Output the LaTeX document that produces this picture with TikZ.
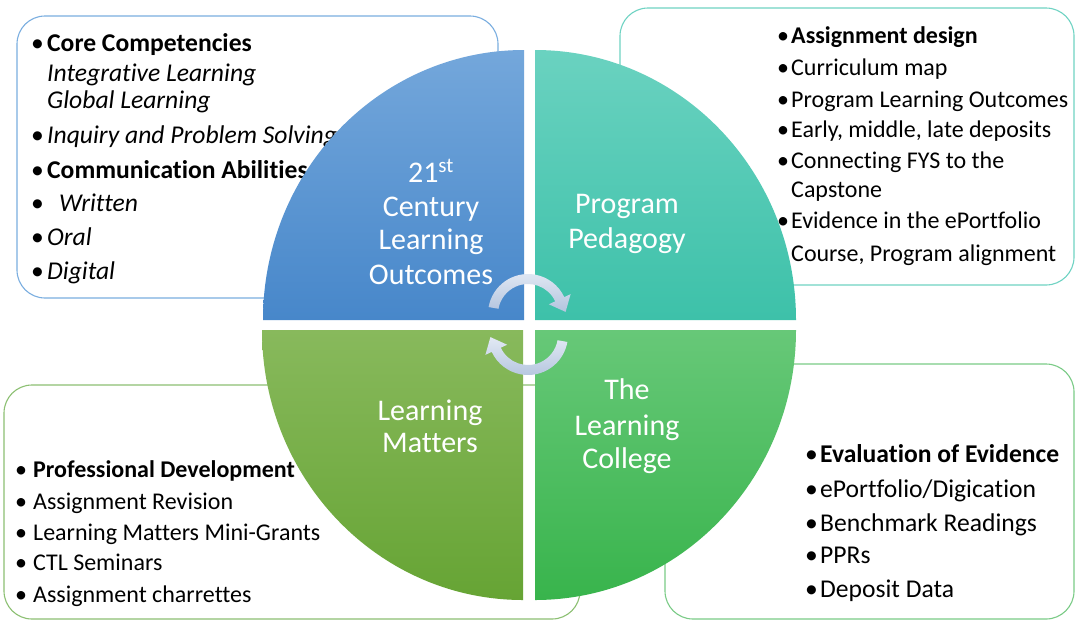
\documentclass[tikz,border=0pt]{standalone}
\usepackage{fontspec}
\setmainfont{Carlito}[Ligatures=NoCommon]
\definecolor{tlTop}{HTML}{74A7DB}
\definecolor{tlBot}{HTML}{4787CA}
\definecolor{trTop}{HTML}{6AD2C0}
\definecolor{trBot}{HTML}{3DC1A9}
\definecolor{blTop}{HTML}{88B95C}
\definecolor{blBot}{HTML}{66A434}
\definecolor{brTop}{HTML}{67C878}
\definecolor{brBot}{HTML}{38B44C}
\definecolor{tlB}{HTML}{7AAEE0}
\definecolor{trB}{HTML}{6FD3C3}
\definecolor{blB}{HTML}{8CC072}
\definecolor{brB}{HTML}{7ACB86}
\definecolor{arrTop}{HTML}{E2E9F4}
\definecolor{arrBot}{HTML}{B3C4DE}
\newcommand\bul[1]{\makebox[#1pt][l]{\textbullet}}
\begin{document}
\begin{tikzpicture}[x=1pt,y=1pt,
  box/.style={draw, line width=1.1pt, fill=white, rounded corners=28pt},
  itm/.style={anchor=base west, inner sep=0pt, font=\fontsize{24}{28}\selectfont},
  itmL/.style={itm, font=\fontsize{25.6}{30}\selectfont},
  lab/.style={anchor=base, inner sep=0pt, text=white, font=\fontsize{30}{34}\selectfont},
  arr/.style={top color=arrTop, bottom color=arrBot, draw=none}]
\useasboundingbox (0,0) rectangle (1076,-622);
\fill[white] (0,0) rectangle (1076,-622);
% boxes
\draw[box, draw=tlB] (17,-16) rectangle (498,-298);
\draw[box, draw=trB] (620,-8) rectangle (1074,-285);
\draw[box, draw=blB] (4,-385) rectangle (580,-619);
\draw[box, draw=brB] (665,-364) rectangle (1074,-619);
% top-left texts
\node[itmL] (tl1) at (31,-51) {\bul{16}\textbf{Core Competencies}};
\node[itmL] (tl2) at (47,-81) {\itshape Integrative Learning};
\node[itmL] (tl3) at (47,-108) {\itshape Global Learning};
\node[itmL] (tl4) at (31,-143) {\bul{16}\textit{Inquiry and Problem Solving}};
\node[itmL] (tl5) at (31,-178) {\bul{16}\textbf{Communication Abilities}};
\node[itmL] (tl6) at (31,-211) {\bul{28}\textit{Written}};
\node[itmL] (tl7) at (31,-245) {\bul{16}\textit{Oral}};
\node[itmL] (tl8) at (31,-279) {\bul{16}\textit{Digital}};
% top-right texts
\node[itm] (tr1) at (777,-43) {\bul{14}\textbf{Assignment design}};
\node[itm] (tr2) at (777,-75) {\bul{14}Curriculum map};
\node[itm] (tr3) at (777,-107) {\bul{14}Program Learning Outcomes};
\node[itm] (tr4) at (777,-137) {\bul{14}Early, middle, late deposits};
\node[itm] (tr5) at (777,-168) {\bul{14}Connecting FYS to the};
\node[itm] (tr6) at (791,-197) {Capstone};
\node[itm] (tr7) at (777,-228) {\bul{14}Evidence in the ePortfolio};
\node[itm] (tr8) at (791,-261) {Course, Program alignment};
% bottom-left texts
\node[itm] (bl1) at (15,-477) {\bul{18}\textbf{Professional Development}};
\node[itm] (bl2) at (15,-509) {\bul{18}Assignment Revision};
\node[itm] (bl3) at (15,-540) {\bul{18}Learning Matters Mini-Grants};
\node[itm] (bl4) at (15,-570) {\bul{18}CTL Seminars};
\node[itm] (bl5) at (15,-602) {\bul{18}Assignment charrettes};
% bottom-right texts
\node[itmL] (br1) at (805,-462) {\bul{15}\textbf{Evaluation of Evidence}};
\node[itmL] (br2) at (805,-497) {\bul{15}ePortfolio/Digication};
\node[itmL] (br3) at (805,-531) {\bul{15}Benchmark Readings};
\node[itmL] (br4) at (805,-563) {\bul{15}PPRs};
\node[itmL] (br5) at (805,-597) {\bul{15}Deposit Data};
% quadrants
\shade[top color=tlTop, bottom color=tlBot] (524,-320) -- (263,-320) arc[start angle=180, end angle=90, x radius=261, y radius=270] -- cycle;
\shade[top color=trTop, bottom color=trBot] (535,-320) -- (535,-50) arc[start angle=90, end angle=0, x radius=261, y radius=270] -- cycle;
\shade[top color=brTop, bottom color=brBot] (535,-330) -- (796,-330) arc[start angle=0, end angle=-90, x radius=261, y radius=270] -- cycle;
\shade[top color=blTop, bottom color=blBot] (523,-330) -- (523,-600) arc[start angle=270, end angle=180, x radius=261, y radius=270] -- cycle;
% quadrant labels
\node[lab] (q1a) at (431,-182) {21\textsuperscript{st}};
\node[lab] (q1b) at (431,-216) {Century};
\node[lab] (q1c) at (431,-249) {Learning};
\node[lab] (q1d) at (431,-284) {Outcomes};
\node[lab] (q2a) at (627,-213) {Program};
\node[lab] (q2b) at (627,-248) {Pedagogy};
\node[lab] (q3a) at (430,-420) {Learning};
\node[lab] (q3b) at (430,-452) {Matters};
\node[lab] (q4a) at (627,-399) {The};
\node[lab] (q4b) at (627,-435) {Learning};
\node[lab] (q4c) at (627,-468) {College};
% circular arrows
\begin{scope}[shift={(528,-314)}]
\shade[arr] (170:40) arc[start angle=170, end angle=25, radius=40] -- (25:47) -- (37.6,2.1) -- (25:23) -- (25:30) arc[start angle=25, end angle=170, radius=30] -- cycle;
\end{scope}
\begin{scope}[shift={(528,-335)}]
\shade[arr] (-10:40) arc[start angle=-10, end angle=-155, radius=40] -- (205:47) -- (-37.6,-2.1) -- (205:23) -- (205:30) arc[start angle=-155, end angle=-10, radius=30] -- cycle;
\end{scope}
\end{tikzpicture}
\end{document}
